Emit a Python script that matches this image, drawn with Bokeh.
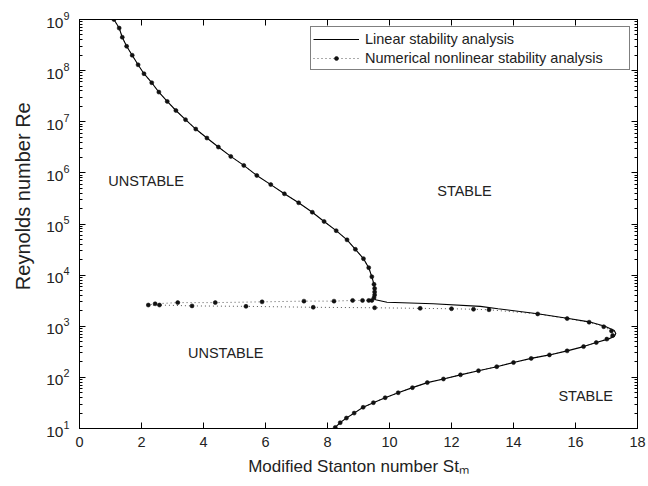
from bokeh.plotting import figure
from bokeh.models import (LinearAxis, LogAxis, FixedTicker, Legend, LegendItem,
                          Range1d)
from bokeh.core.properties import value
from bokeh.embed import file_html
from bokeh.resources import INLINE

FONT = "Liberation Sans"
INK = "#222222"

# Linear stability boundary (St_m, Re)
st_linear = [1.11, 1.28, 1.38, 1.52, 1.70, 1.89, 2.08, 2.33, 2.56, 2.83,
             3.11, 3.42, 3.75, 4.11, 4.48, 4.88, 5.30, 5.72, 6.17, 6.61,
             7.07, 7.51, 7.89, 8.28, 8.63, 8.90, 9.16, 9.33, 9.43, 9.50,
             9.52, 9.52, 9.52, 9.50, 9.55, 9.92, 11.41, 12.93, 13.50, 14.78,
             15.73, 16.44, 16.95, 17.25, 17.30, 17.25, 17.05, 16.67, 16.26, 15.73,
             15.16, 14.57, 14.00, 13.46, 12.87, 12.29, 11.74, 11.22, 10.74, 10.28,
             9.86, 9.48, 9.15, 8.86, 8.61, 8.41, 8.25, 8.18]
re_linear = [1.0e9, 6.8e8, 4.5e8, 3.0e8, 2.0e8, 1.3e8, 8.7e7, 5.8e7, 3.8e7, 2.5e7,
             1.66e7, 1.1e7, 7.2e6, 4.8e6, 3.2e6, 2.1e6, 1.4e6, 8.9e5, 5.9e5, 3.9e5,
             2.6e5, 1.7e5, 1.12e5, 7.4e4, 4.9e4, 3.2e4, 2.1e4, 1.4e4, 9.3e3, 6.6e3,
             5.5e3, 4.7e3, 4.1e3, 3.6e3, 3.3e3, 2.95e3, 2.75e3, 2.45e3, 2.2e3, 1.76e3,
             1.43e3, 1.22e3, 1.0e3, 830, 725, 630, 560, 480, 400, 330,
             275, 235, 195, 162, 135, 112, 93, 79, 63, 50,
             40, 32, 26, 20, 16, 13, 10.5, 9.3]

# Numerical nonlinear stability analysis (St_m, Re)
st_numerical = [1.11, 1.28, 1.38, 1.52, 1.70, 1.89, 2.08, 2.33, 2.56, 2.83,
                3.11, 3.42, 3.75, 4.11, 4.48, 4.88, 5.30, 5.72, 6.17, 6.61,
                7.07, 7.51, 7.89, 8.28, 8.63, 8.90, 9.16, 9.33, 9.43, 9.50,
                9.52, 9.52, 9.52, 9.50, 9.43, 9.33, 9.13, 8.81, 8.21, 7.24,
                5.89, 4.38, 3.17, 2.44, 2.22, 2.58, 3.63, 5.37, 7.54, 9.52,
                10.99, 12.00, 12.71, 13.21, 14.78, 15.73, 16.44, 16.91, 17.16, 17.20,
                17.01, 16.67, 16.26, 15.73, 15.16, 14.57, 14.00, 13.46, 12.87, 12.29,
                11.74, 11.22, 10.74, 10.28, 9.86, 9.48, 9.15, 8.86, 8.61, 8.41,
                8.25]
re_numerical = [1.0e9, 6.8e8, 4.5e8, 3.0e8, 2.0e8, 1.3e8, 8.7e7, 5.8e7, 3.8e7, 2.5e7,
                1.66e7, 1.1e7, 7.2e6, 4.8e6, 3.2e6, 2.1e6, 1.4e6, 8.9e5, 5.9e5, 3.9e5,
                2.6e5, 1.7e5, 1.12e5, 7.4e4, 4.9e4, 3.2e4, 2.1e4, 1.4e4, 9.3e3, 6.6e3,
                5.5e3, 4.7e3, 4.1e3, 3.6e3, 3.2e3, 3.2e3, 3.2e3, 3.2e3, 3.1e3, 3.1e3,
                3.0e3, 2.9e3, 2.9e3, 2.75e3, 2.6e3, 2.6e3, 2.5e3, 2.45e3, 2.35e3, 2.3e3,
                2.24e3, 2.2e3, 2.15e3, 2.1e3, 1.74e3, 1.41e3, 1.2e3, 980, 810, 660,
                560, 480, 400, 330, 275, 235, 195, 162, 135, 112,
                93, 79, 63, 50, 40, 32, 26, 20, 16, 13,
                10.5]

# Region annotations
region_text = ["UNSTABLE", "STABLE", "UNSTABLE", "STABLE"]
region_st = [0.93, 11.54, 3.50, 15.45]
region_re = [7.0e5, 4.5e5, 300, 44]

x_ticks = [0, 2, 4, 6, 8, 10, 12, 14, 16, 18]
y_major = [10.0 ** k for k in range(1, 10)]
y_minor = [m * 10.0 ** k for k in range(1, 9) for m in range(2, 10)]

p = figure(width=648, height=486,
           x_range=Range1d(0, 18), y_range=Range1d(10, 1e9),
           y_axis_type="log",
           output_backend="svg", toolbar_location=None,
           min_border_left=79, min_border_right=11,
           min_border_top=19, min_border_bottom=58)

p.grid.visible = False
p.outline_line_color = "black"
p.outline_line_width = 1
p.background_fill_color = "white"
p.border_fill_color = "white"

# bottom axis
xa = p.xaxis[0]
xa.ticker = FixedTicker(ticks=x_ticks)
xa.major_tick_in = 6
xa.major_tick_out = 0
xa.minor_tick_in = 0
xa.minor_tick_out = 0
xa.major_label_standoff = 8
xa.major_label_text_font = FONT
xa.major_label_text_font_size = "14.5px"
xa.major_label_text_color = INK
xa.axis_line_color = "black"
xa.major_tick_line_color = "black"
xa.axis_label = "Modified Stanton number St\u2098"
xa.axis_label_text_font = FONT
xa.axis_label_text_font_style = "normal"
xa.axis_label_text_font_size = "17px"
xa.axis_label_text_color = INK
xa.axis_label_standoff = 7

# left axis; leading no-break spaces lift the rotated title a little
ya = p.yaxis[0]
ya.ticker = FixedTicker(ticks=y_major, minor_ticks=y_minor)
ya.major_tick_in = 6
ya.major_tick_out = 0
ya.minor_tick_in = 3
ya.minor_tick_out = 0
ya.major_label_standoff = 10
ya.major_label_text_font = FONT
ya.major_label_text_font_size = "15.5px"
ya.major_label_text_color = INK
ya.axis_line_color = "black"
ya.major_tick_line_color = "black"
ya.minor_tick_line_color = "black"
ya.axis_label = "\u00a0" * 10 + "Reynolds number Re"
ya.axis_label_text_font = FONT
ya.axis_label_text_font_style = "normal"
ya.axis_label_text_font_size = "20px"
ya.axis_label_text_color = INK
ya.axis_label_standoff = 9

# mirrored tick marks on top and right (labels hidden)
top = LinearAxis(ticker=FixedTicker(ticks=x_ticks), major_tick_in=6, major_tick_out=0,
                 minor_tick_in=0, minor_tick_out=0, major_label_standoff=0,
                 major_label_text_font_size="1px", major_label_text_alpha=0,
                 axis_line_color="black")
right = LogAxis(ticker=FixedTicker(ticks=y_major, minor_ticks=y_minor),
                major_tick_in=6, major_tick_out=0, minor_tick_in=3, minor_tick_out=0,
                major_label_standoff=0, major_label_text_font_size="1px",
                major_label_text_alpha=0, axis_line_color="black")
p.add_layout(top, "above")
p.add_layout(right, "right")

# curves
r_num_line = p.line(st_numerical, re_numerical, line_color="#555555", line_width=1,
                    line_dash="1 3")
r_lin = p.line(st_linear, re_linear, line_color="black", line_width=1.1)
r_num_pts = p.scatter(st_numerical, re_numerical, marker="circle", size=4,
                      fill_color="#111111", line_color="#111111", line_width=0.6)

p.text(region_st, region_re, text=region_text, text_font=value(FONT),
       text_font_size="14.5px", text_color=INK, text_align="left",
       text_baseline="middle")

legend = Legend(items=[
    LegendItem(label="Linear stability analysis", renderers=[r_lin]),
    LegendItem(label="Numerical nonlinear stability analysis",
               renderers=[r_num_line, r_num_pts]),
], location="top_right", margin=7, padding=2, spacing=0,
    glyph_width=46, glyph_height=10, label_height=19, label_width=262,
    label_standoff=6, label_text_font=FONT, label_text_font_size="14.5px",
    label_text_color=INK, border_line_color="black", border_line_width=1,
    background_fill_color="white", background_fill_alpha=1)
p.add_layout(legend)

open("out.html", "w").write(file_html(p, INLINE))
